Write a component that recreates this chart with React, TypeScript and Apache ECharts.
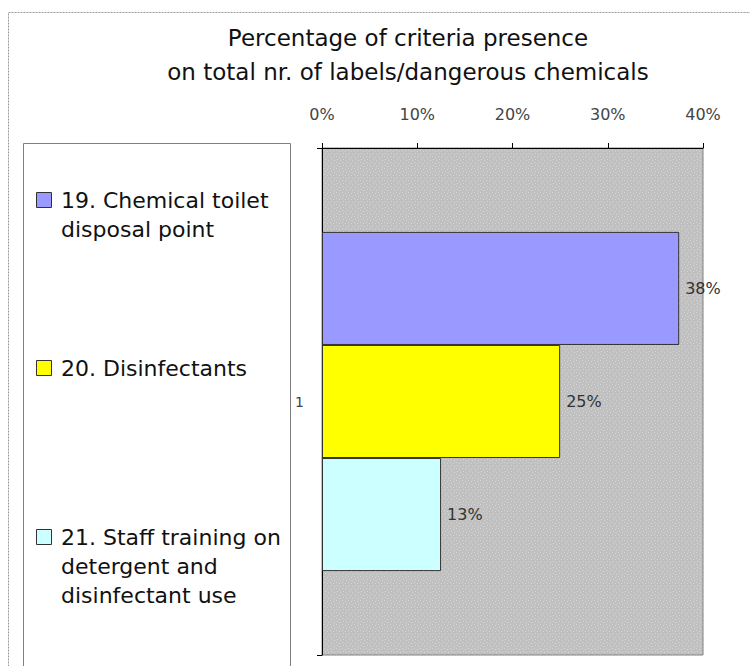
import React, { useEffect, useRef } from "react";
import * as echarts from "echarts";

// Chart data
const categories = ["1"];
const seriesNames = [
  "19. Chemical toilet\ndisposal point",
  "20. Disinfectants",
  "21. Staff training on\ndetergent and\ndisinfectant use",
];
const seriesValues = [37.5, 25, 12.5];
const seriesColors = ["#9999ff", "#ffff00", "#ccffff"];
const axisMin = 0;
const axisMax = 40;
const axisStep = 10;
const titleLines = [
  "Percentage of criteria presence",
  "on total nr. of labels/dangerous chemicals",
];

const FONT = "'DejaVu Sans', 'Liberation Sans', Arial, sans-serif";

// Grey stipple used as the plot-area fill
function makeStipple(): HTMLCanvasElement {
  const c = document.createElement("canvas");
  c.width = 6;
  c.height = 6;
  const ctx = c.getContext("2d")!;
  ctx.fillStyle = "#c0c0c0";
  ctx.fillRect(0, 0, 6, 6);
  ctx.fillStyle = "#d6d6d6";
  const dots = [
    [0, 0],
    [3, 1],
    [1, 3],
    [4, 4],
  ];
  dots.forEach(([x, y]) => ctx.fillRect(x, y, 1, 1));
  return c;
}

export default function App() {
  const ref = useRef<HTMLDivElement>(null);

  useEffect(() => {
    if (!ref.current) return;
    const chart = echarts.init(ref.current, undefined, { renderer: "svg" });

    const legendRows = [200, 368, 537];
    const legendGraphics: any[] = [];
    seriesNames.forEach((name, i) => {
      const cy = legendRows[i];
      legendGraphics.push({
        type: "rect",
        shape: { x: 36.5, y: cy - 7.5, width: 15, height: 15 },
        style: { fill: seriesColors[i], stroke: "#333", lineWidth: 1 },
      });
      legendGraphics.push({
        type: "text",
        x: 61,
        y: cy - 14.5,
        style: {
          text: name,
          font: `22px ${FONT}`,
          fill: "#111",
          lineHeight: 29,
          verticalAlign: "top",
          textAlign: "left",
        },
      });
    });

    chart.setOption({
      animation: false,
      backgroundColor: "#ffffff",
      title: {
        text: titleLines.join("\n"),
        left: 403,
        top: 16,
        textAlign: "center",
        textStyle: {
          fontFamily: FONT,
          fontSize: 23,
          fontWeight: "normal",
          color: "#111",
          lineHeight: 34,
        },
      },
      grid: {
        left: 322,
        right: 47,
        top: 148,
        bottom: 11,
        show: true,
        backgroundColor: { image: makeStipple(), repeat: "repeat" },
        borderColor: "#808080",
        borderWidth: 1,
      },
      xAxis: {
        type: "value",
        position: "top",
        min: axisMin,
        max: axisMax,
        interval: axisStep,
        axisLine: { show: true, lineStyle: { color: "#000", width: 1 } },
        axisTick: { show: true, inside: false, length: 5, lineStyle: { color: "#000" } },
        splitLine: { show: false },
        axisLabel: {
          formatter: "{value}%",
          margin: 26,
          fontFamily: FONT,
          fontSize: 16,
          color: "#444",
        },
      },
      yAxis: {
        type: "category",
        data: categories,
        inverse: true,
        axisLine: { show: true, lineStyle: { color: "#000", width: 1 } },
        axisTick: { show: true, length: 5, lineStyle: { color: "#000" } },
        axisLabel: {
          margin: 18,
          fontFamily: FONT,
          fontSize: 14,
          color: "#444",
        },
      },
      graphic: [
        {
          type: "rect",
          shape: { x: 8.5, y: 12.5, width: 800, height: 700 },
          style: { fill: "none", stroke: "#9a9a9a", lineWidth: 1, lineDash: [2, 1] },
        },
        {
          type: "rect",
          shape: { x: 23.5, y: 143.5, width: 267, height: 600 },
          style: { fill: "none", stroke: "#808080", lineWidth: 1 },
        },
        ...legendGraphics,
      ],
      series: seriesNames.map((name, i) => ({
        type: "bar",
        name,
        data: [seriesValues[i]],
        barGap: "0%",
        barCategoryGap: "33.1%",
        itemStyle: { color: seriesColors[i], borderColor: "#333", borderWidth: 1 },
        label: {
          show: true,
          position: "right",
          distance: 6,
          formatter: (p: any) => `${Math.round(p.value)}%`,
          fontFamily: FONT,
          fontSize: 16,
          color: "#333",
        },
      })),
    });

    return () => chart.dispose();
  }, []);

  return (
    <div
      ref={ref}
      style={{ position: "fixed", left: 0, top: 0, width: 750, height: 666 }}
    />
  );
}
